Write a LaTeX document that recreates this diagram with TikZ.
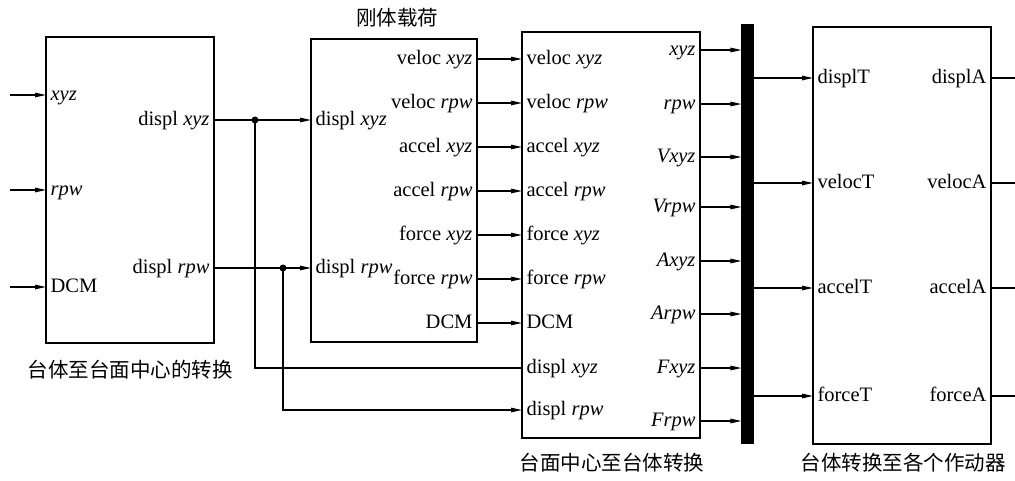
\documentclass[tikz,border=0pt]{standalone}
\usepackage{fontspec}
\setmainfont{Liberation Serif}
\newfontfamily\cjk{Noto Sans CJK SC}
\usepackage{tikz}
\usetikzlibrary{arrows.meta}

\begin{document}
\begin{tikzpicture}[x=1pt,y=-1pt,line width=1.1pt,>={Triangle[length=11pt,width=4.5pt]}]
	\tikzset{block/.style={draw, rectangle, inner sep=0pt}}
	\tikzset{port/.style={inner sep=4pt, text height=14pt, text depth=4pt, font=\fontsize{20.5}{24}\selectfont}}
	\tikzset{pin/.style={port, anchor=west}}
	\tikzset{pout/.style={port, anchor=east}}
	\tikzset{jdot/.style={circle, fill=black, inner sep=0pt, minimum size=7pt}}
	\tikzset{caption/.style={font=\cjk\fontsize{20.5}{24}\selectfont}}
	\useasboundingbox (0,0) rectangle (1015,480);

	%---NODES---
	\node[block, minimum width=168pt, minimum height=306pt] (B1) at (130,190) {};
	\node[block, minimum width=166pt, minimum height=303pt] (B2) at (394,190.5) {};
	\node[block, minimum width=178pt, minimum height=406pt] (B3) at (611,235) {};
	\node[block, fill=black, minimum width=11pt, minimum height=418pt] (Bar) at (747.5,234) {};
	\node[block, minimum width=178pt, minimum height=417pt] (B4) at (902,235.5) {};

	% block 1
	\node[pin] (B1xyz) at (46,95) {\textit{xyz}};
	\node[pin] (B1rpw) at (46,190) {\textit{rpw}};
	\node[pin] (B1dcm) at (46,287) {DCM};
	\node[pout] (B1dxyz) at (214,120) {displ \textit{xyz}};
	\node[pout] (B1drpw) at (214,268) {displ \textit{rpw}};
	\coordinate (s1) at (10,95);
	\coordinate (s2) at (10,190);
	\coordinate (s3) at (10,287);
	\node[jdot] (J1) at (255,120) {};
	\node[jdot] (J2) at (283,268) {};

	% block 2
	\node[pin] (B2dxyz) at (311,120) {displ \textit{xyz}};
	\node[pin] (B2drpw) at (311,268) {displ \textit{rpw}};
	\node[pout] (B2vxyz) at (477,59) {veloc \textit{xyz}};
	\node[pout] (B2vrpw) at (477,103) {veloc \textit{rpw}};
	\node[pout] (B2axyz) at (477,147) {accel \textit{xyz}};
	\node[pout] (B2arpw) at (477,191) {accel \textit{rpw}};
	\node[pout] (B2fxyz) at (477,235) {force \textit{xyz}};
	\node[pout] (B2frpw) at (477,279) {force \textit{rpw}};
	\node[pout] (B2dcm) at (477,323) {DCM};

	% block 3
	\node[pin] (B3vxyz) at (522,59) {veloc \textit{xyz}};
	\node[pin] (B3vrpw) at (522,103) {veloc \textit{rpw}};
	\node[pin] (B3axyz) at (522,147) {accel \textit{xyz}};
	\node[pin] (B3arpw) at (522,191) {accel \textit{rpw}};
	\node[pin] (B3fxyz) at (522,235) {force \textit{xyz}};
	\node[pin] (B3frpw) at (522,279) {force \textit{rpw}};
	\node[pin] (B3dcm) at (522,323) {DCM};
	\node[pin] (B3dxyz) at (522,368) {displ \textit{xyz}};
	\node[pin] (B3drpw) at (522,410) {displ \textit{rpw}};
	\node[pout] (B3xyz) at (700,50) {\textit{xyz}};
	\node[pout] (B3rpw) at (700,104) {\textit{rpw}};
	\node[pout] (B3Vxyz) at (700,157) {\textit{Vxyz}};
	\node[pout] (B3Vrpw) at (700,207) {\textit{Vrpw}};
	\node[pout] (B3Axyz) at (700,261) {\textit{Axyz}};
	\node[pout] (B3Arpw) at (700,314) {\textit{Arpw}};
	\node[pout] (B3Fxyz) at (700,368) {\textit{Fxyz}};
	\node[pout] (B3Frpw) at (700,421) {\textit{Frpw}};

	% block 4
	\node[pin] (B4dT) at (813,78) {displT};
	\node[pin] (B4vT) at (813,183) {velocT};
	\node[pin] (B4aT) at (813,288) {accelT};
	\node[pin] (B4fT) at (813,396) {forceT};
	\node[pout] (B4dA) at (991,78) {displA};
	\node[pout] (B4vA) at (991,183) {velocA};
	\node[pout] (B4aA) at (991,288) {accelA};
	\node[pout] (B4fA) at (991,396) {forceA};
	\coordinate (e1) at (1015,78);
	\coordinate (e2) at (1015,183);
	\coordinate (e3) at (1015,288);
	\coordinate (e4) at (1015,396);

	%---EDGES---
	\draw[->] (s1) -- (B1xyz.west);
	\draw[->] (s2) -- (B1rpw.west);
	\draw[->] (s3) -- (B1dcm.west);

	\draw[->] (B1dxyz.east) -- (B2dxyz.west);
	\draw[->] (B1drpw.east) -- (B2drpw.west);
	\draw (J1.center) |- (B3dxyz.west);
	\draw[->] (J2.center) |- (B3drpw.west);

	\draw[->] (B2vxyz.east) -- (B3vxyz.west);
	\draw[->] (B2vrpw.east) -- (B3vrpw.west);
	\draw[->] (B2axyz.east) -- (B3axyz.west);
	\draw[->] (B2arpw.east) -- (B3arpw.west);
	\draw[->] (B2fxyz.east) -- (B3fxyz.west);
	\draw[->] (B2frpw.east) -- (B3frpw.west);
	\draw[->] (B2dcm.east) -- (B3dcm.west);

	\draw[->] (B3xyz.east) -- (B3xyz.east -| Bar.west);
	\draw[->] (B3rpw.east) -- (B3rpw.east -| Bar.west);
	\draw[->] (B3Vxyz.east) -- (B3Vxyz.east -| Bar.west);
	\draw[->] (B3Vrpw.east) -- (B3Vrpw.east -| Bar.west);
	\draw[->] (B3Axyz.east) -- (B3Axyz.east -| Bar.west);
	\draw[->] (B3Arpw.east) -- (B3Arpw.east -| Bar.west);
	\draw[->] (B3Fxyz.east) -- (B3Fxyz.east -| Bar.west);
	\draw[->] (B3Frpw.east) -- (B3Frpw.east -| Bar.west);

	\draw[->] (B4dT.west -| Bar.east) -- (B4dT.west);
	\draw[->] (B4vT.west -| Bar.east) -- (B4vT.west);
	\draw[->] (B4aT.west -| Bar.east) -- (B4aT.west);
	\draw[->] (B4fT.west -| Bar.east) -- (B4fT.west);

	\draw (B4dA.east) -- (e1);
	\draw (B4vA.east) -- (e2);
	\draw (B4aA.east) -- (e3);
	\draw (B4fA.east) -- (e4);

	%---LABELS---
	\node[caption] (C1) at (130,370) {台体至台面中心的转换};
	\node[caption] (C2) at (397,18) {刚体载荷};
	\node[caption] (C3) at (612,463) {台面中心至台体转换};
	\node[caption] (C4) at (903,463) {台体转换至各个作动器};

\end{tikzpicture}
\end{document}
